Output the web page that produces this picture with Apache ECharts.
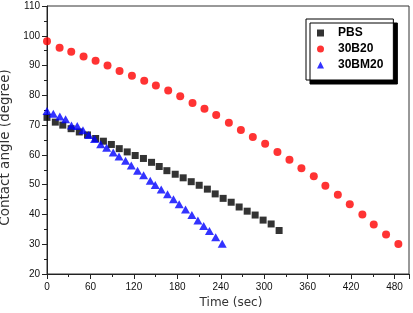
<!DOCTYPE html>
<html>
<head>
<meta charset="utf-8">
<script src="https://cdn.jsdelivr.net/npm/echarts@6/dist/echarts.min.js"></script>
<style>
  html, body { margin: 0; padding: 0; background: #fff; }
  #chart { width: 413px; height: 313px; }
</style>
</head>
<body>
<div id="chart"></div>
<script>
// values: time (sec) and contact angle (degree)
const pbsTime = [0, 11.5, 21.8, 33.3, 44.6, 55.9, 67.2, 77.9, 88.9, 99.8, 110.8, 121.8, 133.2, 144.4, 155,
  165.6, 177.1, 188.1, 199.2, 210.2, 221.5, 232.3, 243.3, 254.4, 265.4, 276.5, 287.5, 298.5, 309.6, 320.6];
const pbsAngle = [72.6, 71.0, 70.0, 68.8, 67.7, 66.7, 65.5, 64.6, 63.5, 62.1, 61.0, 59.8, 58.8, 57.5, 56.1,
  54.7, 53.5, 52.3, 51.0, 49.8, 48.5, 46.9, 45.4, 44.1, 42.5, 41.1, 39.8, 38.1, 36.8, 34.6];

const b20Time = [0, 17.4, 33.5, 50.5, 67.1, 83.6, 100.2, 117.3, 134.3, 150.4, 167.4, 184.0, 201.0, 217.5, 233.7,
  251.2, 267.8, 284.3, 301.3, 318.3, 334.9, 351.4, 368.5, 384.5, 401.7, 418.2, 435.6, 451.3, 468.3, 485.3];
const b20Angle = [98.2, 96.0, 94.6, 93.0, 91.6, 90.0, 88.2, 86.6, 84.9, 83.3, 81.6, 79.7, 77.4, 75.5, 73.4,
  70.8, 68.4, 66.0, 63.7, 61.0, 58.4, 55.5, 52.8, 49.6, 46.6, 43.4, 40.0, 36.6, 33.3, 30.1];

const bm20Time = [0, 8.7, 17.7, 25.7, 33.8, 41.8, 49.7, 57.7, 65.7, 74.1, 82.4, 91.5, 99.5, 108.5, 116.4,
  125.1, 133.4, 142.6, 149.5, 157.8, 166.5, 174.7, 182.6, 191.3, 200.1, 208.4, 216.4, 224.4, 233, 242];
const bm20Angle = [74.7, 73.8, 72.9, 72.0, 69.9, 69.7, 68.3, 66.7, 65.3, 63.6, 62.4, 60.8, 59.5, 58.0, 56.4,
  54.7, 53.2, 51.3, 49.9, 48.4, 46.8, 45.1, 43.4, 41.7, 39.8, 38.0, 36.1, 34.4, 32.3, 30.2];

const seriesNames = ['PBS', '30B20', '30BM20'];

function pairs(xs, ys) {
  return xs.map((x, i) => [x, ys[i]]);
}

const chart = echarts.init(document.getElementById('chart'), null, { renderer: 'canvas' });

const font = 'Liberation Sans, Arial, sans-serif';
const axisText = { color: '#111', fontSize: 10, fontFamily: font };

chart.setOption({
  animation: false,
  backgroundColor: '#fff',
  grid: {
    left: 47, right: 4, top: 6, bottom: 39,
    containLabel: false, outerBoundsMode: 'none',
    show: true, borderColor: '#333', borderWidth: 1
  },
  legend: {
    orient: 'vertical',
    left: 306, top: 19,
    data: seriesNames,
    itemWidth: 7, itemHeight: 7, itemGap: 4,
    padding: [8, 10, 9, 11],
    backgroundColor: '#fff',
    borderColor: '#000', borderWidth: 1,
    shadowColor: '#000', shadowBlur: 0, shadowOffsetX: 4, shadowOffsetY: 4,
    textStyle: { color: '#000', fontSize: 12, fontWeight: 'bold', fontFamily: font, padding: [0, 0, 0, 9] }
  },
  xAxis: {
    type: 'value', min: 0, max: 500, interval: 60,
    name: 'Time (sec)', nameLocation: 'middle', nameGap: 23,
    nameTextStyle: { color: '#333', fontSize: 12, fontFamily: 'DejaVu Sans', padding: [0, 0, 0, 6] },
    axisLine: { lineStyle: { color: '#222', width: 1 } },
    axisTick: { inside: false, length: 5, lineStyle: { color: '#222' } },
    minorTick: { show: true, splitNumber: 2, length: 3, lineStyle: { color: '#222' } },
    axisLabel: Object.assign({ margin: 8, showMaxLabel: false }, axisText),
    splitLine: { show: false }
  },
  yAxis: {
    type: 'value', min: 20, max: 110, interval: 10,
    name: 'Contact angle (degree)', nameLocation: 'middle', nameGap: 28,
    nameTextStyle: { color: '#333', fontSize: 13.5, fontFamily: 'DejaVu Sans', padding: [0, 15, 0, 0] },
    axisLine: { show: true, lineStyle: { color: '#222', width: 1 } },
    axisTick: { show: true, inside: false, length: 5, lineStyle: { color: '#222' } },
    minorTick: { show: true, splitNumber: 2, length: 3, lineStyle: { color: '#222' } },
    axisLabel: Object.assign({ margin: 7 }, axisText),
    splitLine: { show: false }
  },
  series: [
    {
      name: seriesNames[0], type: 'scatter', symbol: 'rect', symbolSize: 7,
      itemStyle: { color: '#000' },
      data: pairs(pbsTime, pbsAngle)
    },
    {
      name: seriesNames[1], type: 'scatter', symbol: 'circle', symbolSize: 8,
      itemStyle: { color: '#ff0000' },
      data: pairs(b20Time, b20Angle)
    },
    {
      name: seriesNames[2], type: 'scatter', symbol: 'triangle', symbolSize: [9, 8],
      itemStyle: { color: '#0000ff' },
      data: pairs(bm20Time, bm20Angle)
    }
  ]
});
</script>
</body>
</html>
